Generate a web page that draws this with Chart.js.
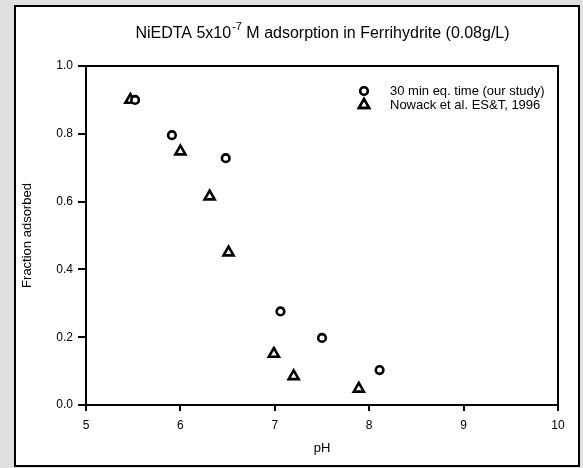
<!DOCTYPE html>
<html>
<head>
<meta charset="utf-8">
<script src="https://cdn.jsdelivr.net/npm/chart.js@4/dist/chart.umd.min.js"></script>
<style>
	body { margin: 0; background: #e0e0e0; }
	canvas { display: block; }
</style>
</head>
<body>
<canvas id="adsorption-chart" width="583" height="468"></canvas>
<script>
// 30 min eq. time (our study)
var phOurStudy = [5.52, 5.91, 6.48, 7.06, 7.50, 8.11];
var fractionOurStudy = [0.90, 0.796, 0.728, 0.276, 0.198, 0.103];

// Nowack et al. ES&T, 1996
var phNowack = [5.47, 6.00, 6.31, 6.51, 6.99, 7.20, 7.89];
var fractionNowack = [0.90, 0.748, 0.615, 0.450, 0.151, 0.085, 0.048];

var seriesLabels = ["30 min eq. time (our study)", "Nowack et al. ES&T, 1996"];
var titleParts = ["NiEDTA 5x10", "-7", " M adsorption in Ferrihydrite (0.08g/L)"];
var xAxisTitle = "pH";
var yAxisTitle = "Fraction adsorbed";

var fontFamily = '"Liberation Sans", Arial, sans-serif';

function toPoints(xs, ys) {
	var pts = [];
	for(var i = 0; i < xs.length; i++)
		pts.push({x: xs[i], y: ys[i]});
	return pts;
}

// gray page, white framed panel
var framePlugin = {
	id: "frame",
	beforeDraw: function(chart) {
		var ctx = chart.ctx;
		ctx.save();
		ctx.fillStyle = "#e0e0e0";
		ctx.fillRect(0, 0, chart.width, chart.height);
		ctx.fillStyle = "#ffffff";
		ctx.fillRect(15, 6, 564, 460);
		ctx.strokeStyle = "#000000";
		ctx.lineWidth = 2;
		ctx.strokeRect(15, 6, 564, 460);
		ctx.restore();
	},
	afterDatasetsDraw: function(chart) {
		var ctx = chart.ctx;
		var area = chart.chartArea;
		ctx.save();
		// top and right sides of the plot box
		ctx.strokeStyle = "#000000";
		ctx.lineWidth = 2;
		ctx.beginPath();
		ctx.moveTo(area.left, area.top);
		ctx.lineTo(area.right, area.top);
		ctx.lineTo(area.right, area.bottom);
		ctx.stroke();

		// title with superscript exponent
		var bigFont = "16px " + fontFamily;
		var smallFont = "11px " + fontFamily;
		ctx.font = bigFont;
		var w0 = ctx.measureText(titleParts[0]).width;
		var w2 = ctx.measureText(titleParts[2]).width;
		ctx.font = smallFont;
		var w1 = ctx.measureText(titleParts[1]).width;
		var cx = (area.left + area.right) / 2;
		var startX = cx - (w0 + w1 + w2) / 2;
		var baseY = 38;
		ctx.fillStyle = "#000000";
		ctx.textBaseline = "alphabetic";
		ctx.textAlign = "left";
		ctx.font = bigFont;
		ctx.fillText(titleParts[0], startX, baseY);
		ctx.font = smallFont;
		ctx.fillText(titleParts[1], startX + w0 + 1, baseY - 8);
		ctx.font = bigFont;
		ctx.fillText(titleParts[2], startX + w0 + w1 + 1, baseY);

		// legend in the upper right corner of the plot
		ctx.font = "13px " + fontFamily;
		ctx.textBaseline = "middle";
		chart.data.datasets.forEach(function(ds, i) {
			var y = 91 + i * 14;
			Chart.helpers.drawPoint(ctx, {
				pointStyle: ds.pointStyle,
				radius: ds.pointRadius,
				borderWidth: ds.borderWidth,
				rotation: 0
			}, 364, y);
			ctx.fillStyle = "#ffffff";
			ctx.strokeStyle = "#000000";
			ctx.lineWidth = ds.borderWidth;
			ctx.fill();
			ctx.stroke();
			ctx.fillStyle = "#000000";
			ctx.fillText(ds.label, 390, y);
		});
		ctx.restore();
	}
};

var axisTicks = {color: "#000000", font: {family: fontFamily, size: 12}};

new Chart(document.getElementById("adsorption-chart"), {
	type: "scatter",
	data: {
		datasets: [{
			label: seriesLabels[0],
			data: toPoints(phOurStudy, fractionOurStudy),
			pointStyle: "circle",
			pointRadius: 3.8,
			borderWidth: 2.6,
			borderColor: "#000000",
			backgroundColor: "#ffffff"
		}, {
			label: seriesLabels[1],
			data: toPoints(phNowack, fractionNowack),
			pointStyle: "triangle",
			pointRadius: 5.8,
			borderWidth: 2.6,
			borderColor: "#000000",
			backgroundColor: "#ffffff"
		}]
	},
	options: {
		responsive: false,
		animation: false,
		events: [],
		layout: {padding: {left: 16, right: 25, top: 66, bottom: 8}},
		plugins: {
			legend: {display: false},
			title: {display: false},
			tooltip: {enabled: false}
		},
		scales: {
			x: {
				type: "linear",
				min: 5,
				max: 10,
				ticks: Object.assign({stepSize: 1, padding: 7}, axisTicks),
				grid: {drawOnChartArea: false, tickLength: 6, color: "#000000", lineWidth: 2},
				border: {color: "#000000", width: 2},
				title: {display: true, text: xAxisTitle, color: "#000000", font: {family: fontFamily, size: 13}},
				afterFit: function(scale) { scale.height = 55; }
			},
			y: {
				min: 0,
				max: 1,
				ticks: Object.assign({stepSize: 0.2, padding: 5, callback: function(v) { return v.toFixed(1); }}, axisTicks),
				grid: {drawOnChartArea: false, tickLength: 8, color: "#000000", lineWidth: 2},
				border: {color: "#000000", width: 2},
				title: {display: true, text: yAxisTitle, color: "#000000", font: {family: fontFamily, size: 13}},
				afterFit: function(scale) { scale.width = 70; }
			}
		}
	},
	plugins: [framePlugin]
});
</script>
</body>
</html>
